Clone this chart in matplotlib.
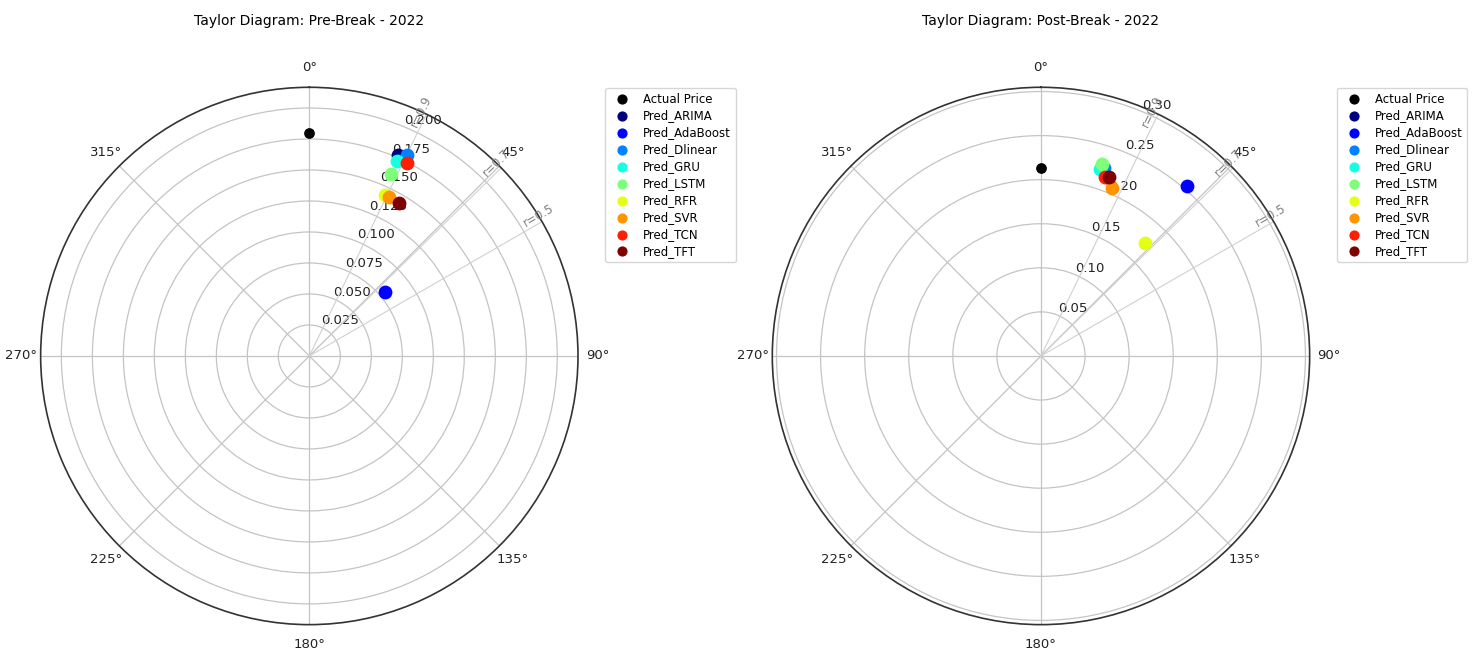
import numpy as np
import matplotlib.pyplot as plt

# model names in legend order
models = ['Pred_ARIMA', 'Pred_AdaBoost', 'Pred_Dlinear', 'Pred_GRU', 'Pred_LSTM',
          'Pred_RFR', 'Pred_SVR', 'Pred_TCN', 'Pred_TFT']

# Pre-Break 2022: reference std and model (std, correlation)
pre_ref_std = 0.180
pre_std = [0.1769, 0.0799, 0.1806, 0.1721, 0.1606, 0.1434, 0.1433, 0.1746, 0.1432]
pre_corr = [0.915, 0.649, 0.899, 0.912, 0.913, 0.904, 0.895, 0.892, 0.863]

# Post-Break 2022
post_ref_std = 0.2137
post_std = [0.2170, 0.2540, 0.2247, 0.2222, 0.2285, 0.1740, 0.2073, 0.2156, 0.2175]
post_corr = [0.938, 0.758, 0.948, 0.954, 0.953, 0.737, 0.921, 0.942, 0.935]

corr_lines = [0.9, 0.7, 0.5]

pre_ticks = [0.025, 0.050, 0.075, 0.100, 0.125, 0.150, 0.175, 0.200]
post_ticks = [0.05, 0.10, 0.15, 0.20, 0.25, 0.30]

colors = plt.cm.jet(np.linspace(0, 1, len(models)))


def taylor(ax, ref_std, stds, corrs, ticks, fmt, title):
    ax.set_theta_zero_location('N')
    ax.set_theta_direction(-1)
    rmax = 1.2 * max([ref_std] + stds)
    ax.set_ylim(0, rmax)
    ax.set_yticks(ticks)
    ax.set_yticklabels([fmt % t for t in ticks])
    ax.set_thetagrids(np.arange(0, 360, 45))
    ax.tick_params(labelsize=9.5, colors='#222222')
    ax.grid(color='#c4c4c4', lw=0.9)
    ax.spines['polar'].set_color('#333333')
    ax.spines['polar'].set_linewidth(1.2)

    # correlation reference lines
    for c in corr_lines:
        th = np.arccos(c)
        ax.plot([th, th], [0, rmax], color='#d0d0d0', lw=0.8)
        ax.text(th, rmax, 'r=%g' % c, rotation=90 - np.degrees(th),
                rotation_mode='anchor', ha='center', va='bottom',
                color='gray', fontsize=8.5)

    ax.scatter([0], [ref_std], color='black', s=45, label='Actual Price', zorder=3)
    for name, s, c, col in zip(models, stds, corrs, colors):
        ax.scatter(np.arccos(c), s, color=col, s=80, label=name, zorder=3)

    leg = ax.legend(loc='upper left', bbox_to_anchor=(1.04, 1.01), fontsize=8.5,
                    labelspacing=0.33)
    for h in leg.legend_handles:
        h.set_sizes([40])
    ax.set_title(title, fontsize=10, pad=45)


fig = plt.figure(figsize=(14.73, 6.55), dpi=100)
ax1 = fig.add_axes([0.0276, 0.0463, 0.3648, 0.8205], projection='polar')
ax2 = fig.add_axes([0.5243, 0.0463, 0.3648, 0.8205], projection='polar')

taylor(ax1, pre_ref_std, pre_std, pre_corr, pre_ticks, '%.3f', 'Taylor Diagram: Pre-Break - 2022')
taylor(ax2, post_ref_std, post_std, post_corr, post_ticks, '%.2f', 'Taylor Diagram: Post-Break - 2022')

fig.savefig('out.png', dpi=100)
